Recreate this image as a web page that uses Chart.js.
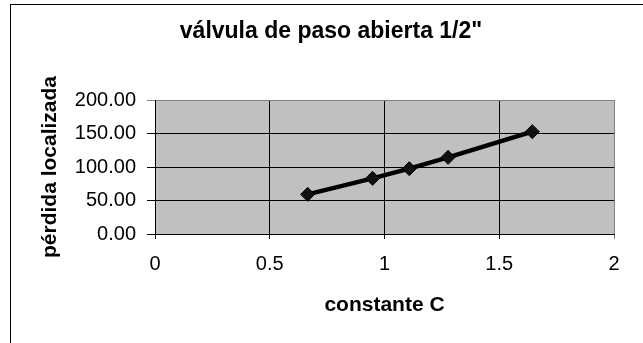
<!DOCTYPE html>
<html>
<head>
<meta charset="utf-8">
<script src="https://cdn.jsdelivr.net/npm/chart.js@4"></script>
<style>
  html, body { margin: 0; padding: 0; background: #fff; }
  canvas { display: block; }
</style>
</head>
<body>
<canvas id="c" width="643" height="343"></canvas>
<script>
// Measured head loss against the loss constant C for a 1/2" gate valve
const chartTitle = 'válvula de paso abierta 1/2"';
const xAxisTitle = 'constante C';
const yAxisTitle = 'pérdida localizada';
const constanteC = [0.665, 0.948, 1.108, 1.277, 1.644];
const perdidaLocalizada = [59.2, 83.1, 97.5, 114.4, 152.7];
const xTickLabels = ['0', '0.5', '1', '1.5', '2'];
const yTickLabels = ['0.00', '50.00', '100.00', '150.00', '200.00'];

const points = constanteC.map((c, i) => ({ x: c, y: perdidaLocalizada[i] }));
const FONT = "'Liberation Sans', Arial, Helvetica, sans-serif";

// Outer frame, grey plot area and the centred chart title
const frame = {
  id: 'frame',
  beforeDraw(chart) {
    const { ctx, chartArea: a } = chart;
    ctx.save();
    ctx.fillStyle = '#ffffff';
    ctx.fillRect(0, 0, chart.width, chart.height);
    ctx.strokeStyle = '#000000';
    ctx.lineWidth = 1;
    ctx.strokeRect(10.5, 4.5, chart.width + 20, chart.height + 20);
    ctx.fillStyle = '#c0c0c0';
    ctx.fillRect(a.left, a.top, a.right - a.left, a.bottom - a.top);
    ctx.restore();
  },
  afterDraw(chart) {
    const { ctx } = chart;
    ctx.save();
    ctx.fillStyle = '#000000';
    ctx.font = 'bold 23px ' + FONT;
    ctx.textAlign = 'center';
    ctx.textBaseline = 'middle';
    ctx.fillText(chartTitle, 331, 32);
    ctx.restore();
  }
};

new Chart(document.getElementById('c'), {
  type: 'scatter',
  data: {
    datasets: [{
      data: points,
      showLine: true,
      borderColor: '#000000',
      borderWidth: 4.5,
      pointStyle: 'rectRot',
      pointRadius: 7,
      pointBackgroundColor: '#111111',
      pointBorderColor: '#000000',
      pointBorderWidth: 1
    }]
  },
  options: {
    responsive: false,
    animation: false,
    devicePixelRatio: 1,
    layout: { padding: { left: 0, top: 100, right: 29, bottom: 0 } },
    plugins: {
      legend: { display: false },
      tooltip: { enabled: false }
    },
    scales: {
      x: {
        type: 'linear',
        min: 0,
        max: 2,
        afterFit(scale) { scale.height = 109; },
        ticks: {
          stepSize: 0.5,
          padding: 13,
          color: '#000000',
          font: { family: FONT, size: 20 },
          maxRotation: 0,
          callback: (v, i) => xTickLabels[i]
        },
        grid: {
          color: (c) => (c.tick && c.tick.value === 2 ? '#808080' : '#000000'),
          lineWidth: 1,
          tickLength: 5,
          drawTicks: true
        },
        border: { display: true, color: '#000000', width: 1 },
        title: {
          display: true,
          text: xAxisTitle,
          color: '#000000',
          font: { family: FONT, size: 21, weight: 'bold' },
          padding: { top: 0, bottom: 25 }
        }
      },
      y: {
        type: 'linear',
        min: 0,
        max: 200,
        afterFit(scale) { scale.width = 155; },
        ticks: {
          stepSize: 50,
          padding: 11,
          color: '#000000',
          font: { family: FONT, size: 20 },
          callback: (v, i) => yTickLabels[i]
        },
        grid: {
          color: (c) => (c.tick && c.tick.value === 200 ? '#808080' : '#000000'),
          lineWidth: 1,
          tickLength: 8,
          drawTicks: true
        },
        border: { display: true, color: '#000000', width: 1 },
        title: {
          display: true,
          text: yAxisTitle,
          color: '#000000',
          font: { family: FONT, size: 21, weight: 'bold' },
          padding: { top: 38, bottom: 0 }
        }
      }
    }
  },
  plugins: [frame]
});
</script>
</body>
</html>
